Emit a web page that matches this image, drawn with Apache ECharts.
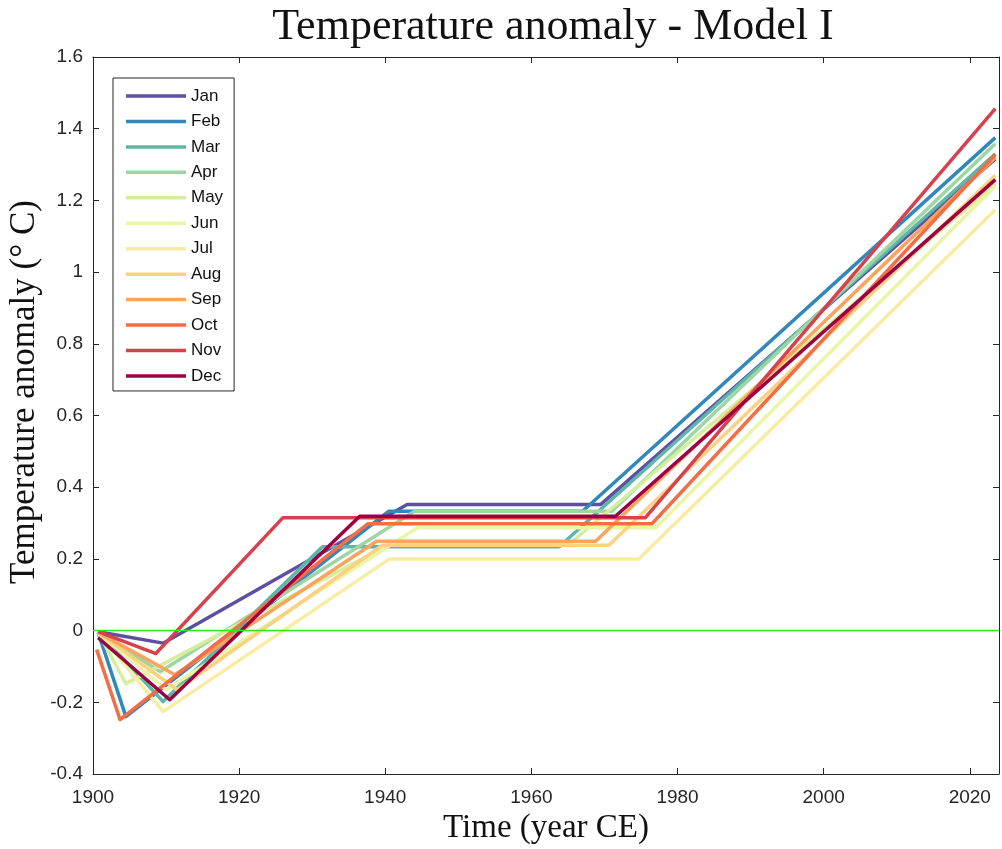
<!DOCTYPE html>
<html>
<head>
<meta charset="utf-8">
<script src="https://cdn.jsdelivr.net/npm/echarts@6/dist/echarts.min.js"></script>
<style>
  html, body { margin: 0; padding: 0; background: #fff; }
  #chart { width: 1002px; height: 849px; }
</style>
</head>
<body>
<div id="chart"></div>
<script>
// month series as [year, anomaly] breakpoints
const months = ['Jan', 'Feb', 'Mar', 'Apr', 'May', 'Jun', 'Jul', 'Aug', 'Sep', 'Oct', 'Nov', 'Dec'];
const janData = [[1900.7, -0.003], [1909.6, -0.035], [1943, 0.352], [1969.5, 0.352], [2023.5, 1.316]];
const febData = [[1900.7, -0.005], [1904.5, -0.24], [1940.5, 0.333], [1967, 0.333], [2023.5, 1.375]];
const marData = [[1900.7, -0.003], [1909.6, -0.198], [1931.4, 0.234], [1963.8, 0.234], [2023.5, 1.33]];
const aprData = [[1900.7, -0.003], [1909.2, -0.115], [1944, 0.333], [1971, 0.333], [2023.5, 1.358]];
const mayData = [[1900.7, -0.005], [1904.5, -0.148], [1941, 0.245], [1965.4, 0.245], [2023.5, 1.245]];
const junData = [[1900.7, -0.005], [1910, -0.165], [1944.4, 0.287], [1977, 0.287], [2023.5, 1.24]];
const julData = [[1900.7, -0.005], [1909.6, -0.226], [1940.6, 0.2], [1974.7, 0.2], [2023.5, 1.174]];
const augData = [[1900.7, -0.005], [1911.5, -0.165], [1939.6, 0.238], [1970.6, 0.238], [2023.5, 1.27]];
const sepData = [[1900.7, -0.005], [1911.2, -0.123], [1938.8, 0.249], [1968.8, 0.249], [2023.5, 1.32]];
const octData = [[1900.5, -0.053], [1903.7, -0.248], [1937.6, 0.298], [1976.5, 0.298], [2023.5, 1.328]];
const novData = [[1900.7, -0.003], [1908.6, -0.064], [1926, 0.315], [1975.6, 0.315], [2023.5, 1.456]];
const decData = [[1900.7, -0.02], [1910.5, -0.193], [1936.5, 0.319], [1971.5, 0.319], [2023.5, 1.258]];
const zeroLine = [[1900, 0], [2024, 0]];

const monthData = [janData, febData, marData, aprData, mayData, junData,
                   julData, augData, sepData, octData, novData, decData];
const monthColors = ['#5e4fa2', '#3288bd', '#5cb8a6', '#9dd6a4', '#d5ee9b', '#eaf5a6',
                     '#f9eca2', '#fdd181', '#fca35c', '#f36d45', '#d7414e', '#9e0142'];

const textColor = '#262626';
const chart = echarts.init(document.getElementById('chart'));

const series = months.map(function(name, i) {
    return {
        name: name,
        type: 'line',
        data: monthData[i],
        showSymbol: false,
        symbol: 'none',
        lineStyle: { width: 3.5, color: monthColors[i], join: 'round' },
        itemStyle: { color: monthColors[i] },
        animation: false
    };
});
series.push({
    name: 'zero',
    type: 'line',
    data: zeroLine,
    symbol: 'none',
    lineStyle: { width: 1.5, color: '#22ee22' },
    animation: false
});

const tickFmt = function(v) {
    return Math.abs(v % 20) < 1e-6 ? String(v) : '';
};

const option = {
    backgroundColor: '#fff',
    animation: false,
    title: {
        text: 'Temperature anomaly - Model I',
        left: 548,
        top: 0,
        textAlign: 'center',
        textStyle: { fontFamily: 'Liberation Serif', fontWeight: 'normal', fontSize: 44, color: '#111' }
    },
    graphic: [{
        type: 'text',
        x: 546, y: 828,
        style: {
            text: 'Time (year CE)',
            font: '33px "Liberation Serif"',
            fill: '#111',
            align: 'center',
            verticalAlign: 'middle'
        }
    }, {
        type: 'text',
        x: 25, y: 392,
        rotation: Math.PI / 2,
        style: {
            text: 'Temperature anomaly (° C)',
            font: '35px "Liberation Serif"',
            fill: '#111',
            align: 'center',
            verticalAlign: 'middle'
        }
    }],
    legend: {
        data: months,
        orient: 'vertical',
        left: 113,
        top: 78,
        padding: [9, 11, 6, 13],
        itemWidth: 60,
        itemHeight: 3.5,
        itemGap: 7.45,
        icon: 'rect',
        backgroundColor: '#fff',
        borderColor: textColor,
        borderWidth: 1,
        borderRadius: 0,
        textStyle: { fontFamily: 'Liberation Sans', fontSize: 17, color: '#111', lineHeight: 18 }
    },
    grid: { left: 93, right: 3, top: 57, bottom: 75, outerBoundsMode: 'none', containLabel: false },
    xAxis: [{
        type: 'value',
        min: 1900, max: 2024, interval: 20,
        axisLine: { onZero: false, lineStyle: { color: textColor } },
        axisTick: { inside: true, length: 6, lineStyle: { color: textColor } },
        axisLabel: { formatter: tickFmt, fontFamily: 'Liberation Sans', fontSize: 19, color: textColor, margin: 14 },
        splitLine: { show: false }
    }, {
        type: 'value', position: 'top',
        min: 1900, max: 2024, interval: 20,
        axisLine: { onZero: false, lineStyle: { color: textColor } },
        axisTick: { inside: true, length: 6, lineStyle: { color: textColor } },
        axisLabel: { show: false },
        splitLine: { show: false }
    }],
    yAxis: [{
        type: 'value',
        min: -0.4, max: 1.6, interval: 0.2,
        axisLine: { show: true, onZero: false, lineStyle: { color: textColor } },
        axisTick: { show: true, inside: true, length: 6, lineStyle: { color: textColor } },
        axisLabel: {
            formatter: function(v) { return String(parseFloat(v.toFixed(1))); },
            fontFamily: 'Liberation Sans', fontSize: 19, color: textColor, margin: 10
        },
        splitLine: { show: false }
    }, {
        type: 'value', position: 'right',
        min: -0.4, max: 1.6, interval: 0.2,
        axisLine: { show: true, onZero: false, lineStyle: { color: textColor } },
        axisTick: { show: true, inside: true, length: 6, lineStyle: { color: textColor } },
        axisLabel: { show: false },
        splitLine: { show: false }
    }],
    series: series
};

chart.setOption(option);
</script>
</body>
</html>
